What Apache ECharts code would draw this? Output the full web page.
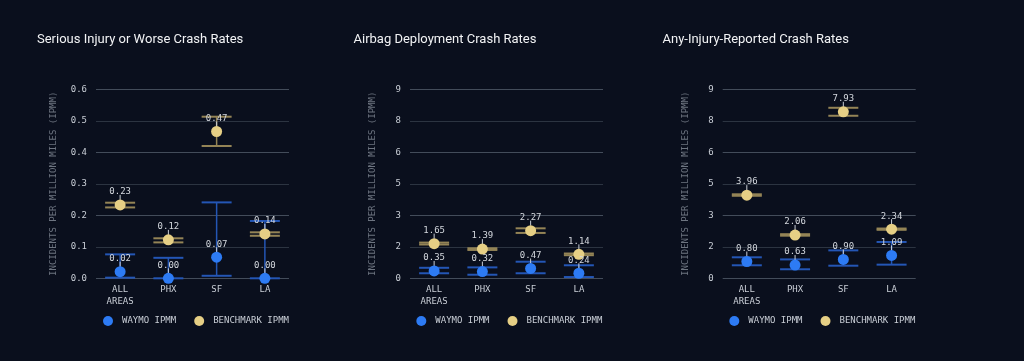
<!DOCTYPE html>
<html>
<head>
<meta charset="utf-8">
<script src="https://cdn.jsdelivr.net/npm/echarts@6/dist/echarts.min.js"></script>
<style>
html,body{margin:0;padding:0;background:#0a0f1d;}
#main{width:1024px;height:361px;}
</style>
</head>
<body>
<div id="main"></div>
<script>
// ---- data ----
const categories = ['ALL\nAREAS', 'PHX', 'SF', 'LA'];
const panelTitles = ['Serious Injury or Worse Crash Rates', 'Airbag Deployment Crash Rates', 'Any-Injury-Reported Crash Rates'];
const legendNames = ['WAYMO IPMM', 'BENCHMARK IPMM'];
const yAxisName = 'INCIDENTS PER MILLION MILES (IPMM)';

// Serious injury or worse
const seriousWaymo = [0.021, 0.00, 0.067, 0.00];
const seriousWaymoLow = [0.002, 0.0, 0.008, 0.0];
const seriousWaymoHigh = [0.076, 0.065, 0.241, 0.182];
const seriousBench = [0.233, 0.122, 0.466, 0.141];
const seriousBenchLow = [0.225, 0.114, 0.42, 0.135];
const seriousBenchHigh = [0.240, 0.127, 0.513, 0.146];

// Airbag deployment
const airbagWaymo = [0.35, 0.32, 0.47, 0.24];
const airbagWaymoLow = [0.24, 0.17, 0.24, 0.06];
const airbagWaymoHigh = [0.50, 0.52, 0.79, 0.62];
const airbagBench = [1.65, 1.39, 2.27, 1.14];
const airbagBenchLow = [1.61, 1.35, 2.16, 1.10];
const airbagBenchHigh = [1.70, 1.43, 2.38, 1.18];

// Any injury reported
const anyWaymo = [0.80, 0.63, 0.90, 1.09];
const anyWaymoLow = [0.62, 0.43, 0.60, 0.65];
const anyWaymoHigh = [1.00, 0.90, 1.33, 1.73];
const anyBench = [3.96, 2.06, 7.93, 2.34];
const anyBenchLow = [3.93, 2.03, 7.74, 2.31];
const anyBenchHigh = [4.00, 2.10, 8.12, 2.37];

// ---- style / layout ----
const BLUE = '#2d7bf4', GOLD = '#e6cf85';
const BLUE_BAR = '#2456b5', GOLD_BAR = '#948456';
const MONO = '"DejaVu Sans Mono", monospace';
const panels = [
  {left: 96, titleLeft: 32, legendLeft: 98, nameGap: 37.5, max: 0.6, interval: 0.1, dec: 1,
   w: seriousWaymo, wl: seriousWaymoLow, wh: seriousWaymoHigh, b: seriousBench, bl: seriousBenchLow, bh: seriousBenchHigh},
  {left: 410, titleLeft: 348.5, legendLeft: 411.3, nameGap: 33, max: 9, interval: 1.5, dec: 0,
   w: airbagWaymo, wl: airbagWaymoLow, wh: airbagWaymoHigh, b: airbagBench, bl: airbagBenchLow, bh: airbagBenchHigh},
  {left: 722.7, titleLeft: 657.5, legendLeft: 724.3, nameGap: 33, max: 9, interval: 1.5, dec: 0,
   w: anyWaymo, wl: anyWaymoLow, wh: anyWaymoHigh, b: anyBench, bl: anyBenchLow, bh: anyBenchHigh}
];

function errRender(barColor) {
  return function (params, api) {
    const x = api.value(0);
    const lo = api.coord([x, api.value(1)]);
    const hi = api.coord([x, api.value(2)]);
    const pt = api.coord([x, api.value(3)]);
    const hw = 15;
    return {
      type: 'group',
      children: [
        {type: 'line', shape: {x1: lo[0], y1: lo[1], x2: hi[0], y2: hi[1]}, style: {stroke: barColor, lineWidth: 1.5}},
        {type: 'line', shape: {x1: lo[0] - hw, y1: lo[1], x2: lo[0] + hw, y2: lo[1]}, style: {stroke: barColor, lineWidth: 2}},
        {type: 'line', shape: {x1: hi[0] - hw, y1: hi[1], x2: hi[0] + hw, y2: hi[1]}, style: {stroke: barColor, lineWidth: 2}},
        {type: 'line', shape: {x1: pt[0], y1: pt[1] - 5, x2: pt[0], y2: pt[1] - 10}, style: {stroke: '#c9ced6', lineWidth: 1}}
      ]
    };
  };
}

const option = {
  backgroundColor: '#0a0f1d',
  animation: false,
  title: panels.map((p, i) => ({
    text: panelTitles[i], left: p.titleLeft, top: 28,
    textStyle: {color: '#f2f3f5', fontSize: 13, fontWeight: 'normal', fontFamily: 'Roboto'}
  })),
  legend: panels.map(p => ({
    data: legendNames, left: p.legendLeft, top: 311, icon: 'circle',
    itemWidth: 18, itemHeight: 10, itemGap: 18,
    textStyle: {color: '#c9ced6', fontSize: 9, fontFamily: MONO}
  })),
  grid: panels.map(p => ({left: p.left, width: 193, top: 89.3, height: 189})),
  xAxis: panels.map((p, i) => ({
    gridIndex: i, type: 'category', data: categories,
    axisLine: {show: false}, axisTick: {show: false},
    axisLabel: {color: '#c9ced6', fontSize: 9, fontFamily: MONO, margin: 5, lineHeight: 12.5, interval: 0}
  })),
  yAxis: panels.map((p, i) => ({
    gridIndex: i, type: 'value', min: 0, max: p.max, interval: p.interval,
    name: yAxisName, nameLocation: 'middle', nameGap: p.nameGap,
    nameTextStyle: {color: '#6d7480', fontSize: 9, fontFamily: MONO},
    axisLine: {show: false}, axisTick: {show: false},
    axisLabel: {color: '#c9ced6', fontSize: 9, fontFamily: MONO, margin: 9,
      formatter: v => p.dec ? v.toFixed(p.dec) : String(Math.round(v))},
    splitLine: {lineStyle: {color: ['#434c5a', '#2c3441'], width: 1}}
  })),
  series: []
};

panels.forEach((p, i) => {
  option.series.push({
    type: 'custom', xAxisIndex: i, yAxisIndex: i, z: 2, silent: true,
    renderItem: errRender(BLUE_BAR),
    encode: {x: 0, y: [1, 2]},
    data: categories.map((c, k) => [k, p.wl[k], p.wh[k], p.w[k]])
  });
  option.series.push({
    type: 'custom', xAxisIndex: i, yAxisIndex: i, z: 2, silent: true,
    renderItem: errRender(GOLD_BAR),
    encode: {x: 0, y: [1, 2]},
    data: categories.map((c, k) => [k, p.bl[k], p.bh[k], p.b[k]])
  });
  [[legendNames[0], p.w, BLUE], [legendNames[1], p.b, GOLD]].forEach(([name, vals, col]) => {
    option.series.push({
      name: name, type: 'scatter', xAxisIndex: i, yAxisIndex: i, z: 3,
      symbol: 'circle', symbolSize: 11, itemStyle: {color: col, opacity: 1},
      label: {show: true, position: 'top', distance: 3, color: '#d4d8de', fontSize: 9, fontFamily: MONO,
        formatter: q => q.value.toFixed(2)},
      data: vals
    });
  });
});

const chart = echarts.init(document.getElementById('main'), null, {renderer: 'canvas'});
chart.setOption(option);
</script>
</body>
</html>
